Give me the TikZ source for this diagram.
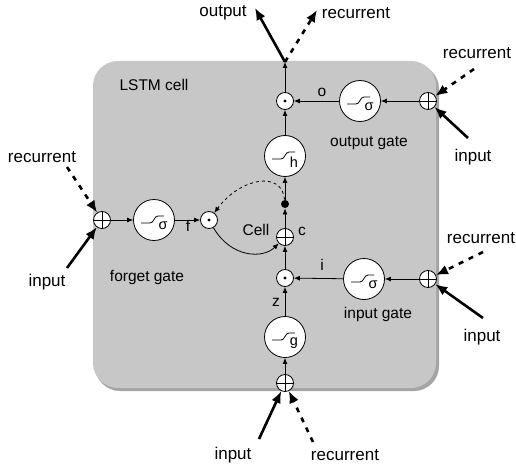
\documentclass[tikz,border=0pt]{standalone}
\usepackage{fontspec}
\setmainfont{Liberation Sans}
\usetikzlibrary{arrows.meta,positioning}
\definecolor{cellgray}{RGB}{199,199,199}
\definecolor{shadegray}{RGB}{165,165,165}

\begin{document}
\begin{tikzpicture}[x=1pt, y=-1pt, line width=0.8pt,
  every node/.style={inner sep=0pt},
  squash/.style={circle, draw, fill=white, minimum size=41pt,
    path picture={\draw ([shift={(-13,3)}]path picture bounding box.center) -- ++(9,0) .. controls +(4,0) and +(-4,0) .. ++(8,-7) -- ++(6,0);},
    label={[xshift=9pt, yshift=-6pt, font=\fontsize{14.5}{15}\selectfont]center:#1}},
  opnode/.style={circle, draw, fill=white, minimum size=17pt},
  plus/.style={opnode, path picture={\draw (path picture bounding box.north) -- (path picture bounding box.south) (path picture bounding box.west) -- (path picture bounding box.east);}},
  times/.style={opnode, path picture={\fill[black] (path picture bounding box.center) circle (1.6);}},
  junction/.style={circle, fill, minimum size=8pt},
  flow/.style={-{Latex[length=6pt,width=5pt]}},
  feed/.style={line width=2.6pt, -{Latex[length=12pt,width=10pt]}},
  loopin/.style={feed, dash pattern=on 5pt off 6pt},
  txt/.style={font=\fontsize{17}{20}\selectfont},
  tag/.style={font=\fontsize{15.5}{18}\selectfont}]
  \useasboundingbox (0,0) rectangle (516,468);
  \fill[shadegray, rounded corners=25] (95,64) rectangle (439,391);
  \fill[cellgray, rounded corners=25] (93,61) rectangle (436,388);
  \node[tag] (title) at (154,85) {LSTM cell};

  \node[plus] (bp) at (285,383) {};
  \node[squash=g] (g) at (285,337) {};
  \node[times] (im) at (285,278) {};
  \node[plus] (cp) at (285,237) {};
  \node[junction] (cj) at (285,204) {};
  \node[squash=h] (h) at (285,156) {};
  \node[times] (om) at (285,101) {};
  \coordinate (exit) at (285,62);

  \node[plus] (fp) at (102,220) {};
  \node[squash=σ] (fs) at (154,220) {};
  \node[times] (fm) at (209,220) {};
  \node[plus] (ip) at (428,279) {};
  \node[squash=σ] (is) at (364,279) {};
  \node[plus] (op) at (428,101) {};
  \node[squash=σ] (os) at (360,101) {};

  \node[tag] at (188,226) {f};
  \node[tag] at (322,92) {o};
  \node[tag] at (322,265) {i};
  \node[tag] at (302,231) {c};
  \node[tag] at (276,302) {z};
  \node[tag] at (256,230) {Cell};
  \node[tag] at (147,277) {forget gate};
  \node[tag] at (378,314) {input gate};
  \node[tag] at (369,143) {output gate};

  \draw[flow] (bp) -- (g);
  \draw[flow] (g) -- (im);
  \draw[flow] (im) -- (cp);
  \draw[flow] (cp) -- (cj);
  \draw[flow] (cj) -- (h);
  \draw[flow] (h) -- (om);
  \draw[flow] (om) -- (exit);
  \draw[flow] (fp) -- (fs);
  \draw[flow] (fs) -- (fm);
  \draw[flow] (ip) -- (is);
  \draw[flow] (is) -- (im);
  \draw[flow] (op) -- (os);
  \draw[flow] (os) -- (om);
  \draw[flow] (fm) .. controls +(22,38) and +(-22,22) .. (cp);
  \draw[flow, dashed] (cj) .. controls +(-3,-34) and +(31,-42) .. (fm);

  \node[txt] (out) at (223,13) {output};
  \node[txt] (outrec) at (356,13) {recurrent};
  \coordinate (outtip) at (255,8);
  \coordinate (rectip) at (317,10);
  \draw[feed] (exit) -- (outtip);
  \draw[loopin] (exit) -- (rectip);

  \node[txt] (orec) at (477,53) {recurrent};
  \node[txt] (oin) at (473,157) {input};
  \coordinate (orect) at (474,69);
  \coordinate (oint) at (468,138);
  \draw[loopin] (orect) -- (op);
  \draw[feed] (oint) -- (op);

  \node[txt] (frec) at (42,157) {recurrent};
  \node[txt] (fin) at (47,282) {input};
  \coordinate (frect) at (67,167);
  \coordinate (fint) at (67,268);
  \draw[loopin] (frect) -- (fp);
  \draw[feed] (fint) -- (fp);

  \node[txt] (irec) at (481,238) {recurrent};
  \node[txt] (iin) at (482,337) {input};
  \coordinate (irect) at (483,252);
  \coordinate (iint) at (483,318);
  \draw[loopin] (irect) -- (ip);
  \draw[feed] (iint) -- (ip);

  \node[txt] (bin) at (233,455) {input};
  \node[txt] (brec) at (345,455) {recurrent};
  \coordinate (bint) at (259,439);
  \coordinate (brect) at (313,442);
  \draw[feed] (bint) -- (bp);
  \draw[loopin] (brect) -- (bp);
\end{tikzpicture}
\end{document}
